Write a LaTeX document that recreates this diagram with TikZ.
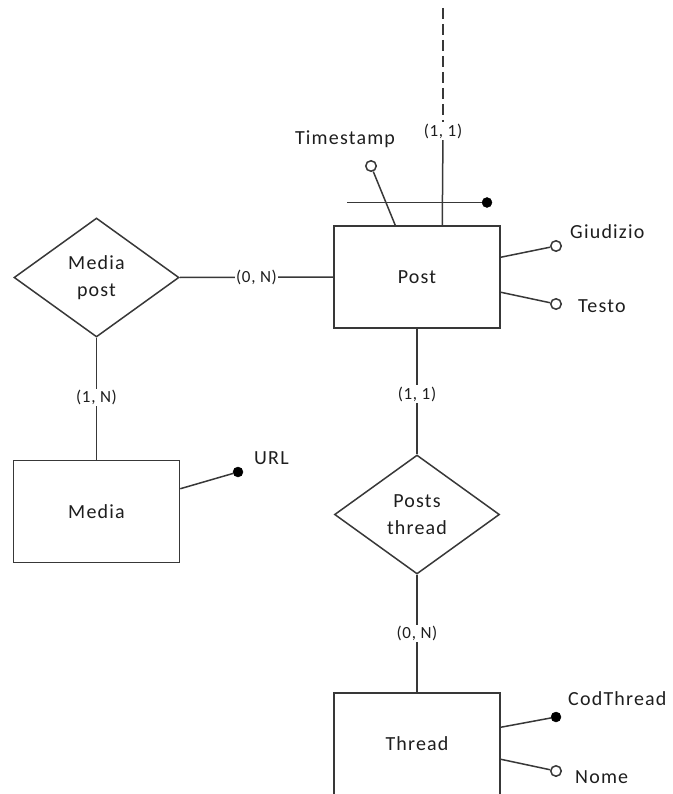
\documentclass[tikz,border=0pt]{standalone}
\usepackage{fontspec}
\setmainfont{Carlito}
\newfontfamily\namefont[LetterSpace=6]{Carlito}
\newfontfamily\cardfont[LetterSpace=4]{Carlito}
\usetikzlibrary{shapes.geometric,calc}
\definecolor{ink}{HTML}{383838}
\definecolor{txt}{HTML}{1E1E1E}
\tikzset{
  every picture/.style={x=1pt,y=-1pt},
  conn/.style={draw=ink,line width=1.5pt},
  entity/.style={draw=ink,line width=1.5pt,fill=white,rectangle,minimum width=166pt,minimum height=102pt,inner sep=0pt,text=txt,font=\namefont\fontsize{20}{27}\selectfont},
  relation/.style={draw=ink,line width=1.5pt,fill=white,diamond,minimum width=165pt,minimum height=119pt,inner sep=0pt,align=center,text=txt,font=\namefont\fontsize{20}{27}\selectfont},
  card/.style={fill=white,inner sep=1.5pt,text=txt,font=\cardfont\fontsize{17}{19}\selectfont},
  attrname/.style={inner sep=0pt,text=txt,font=\namefont\fontsize{20}{24}\selectfont},
  optattr/.style={circle,draw=ink,line width=1.5pt,fill=white,minimum size=10.5pt,inner sep=0pt},
  keyattr/.style={circle,draw=black,fill=black,minimum size=10pt,inner sep=0pt},
}
\begin{document}
\begin{tikzpicture}
\useasboundingbox (0,0) rectangle (672,794);
\clip (0,0) rectangle (672,794);

% entities
\node[entity] (post) at (417,277) {Post};
\node[entity] (media) at (96.5,511.5) {Media};
\node[entity] (thread) at (417,744) {Thread};

% relationships
\node[relation] (mediapost) at (96.5,277.5) {Media\\post};
\node[relation] (poststhread) at (417,514.5) {Posts\\thread};

% Media post -- Post
\draw[conn] (mediapost.east) -- node[card] {(0, N)} (post.west);
% Media post -- Media
\draw[conn] (mediapost.south) -- node[card,pos=0.49] {(1, N)} (media.north);
% Post -- Posts thread
\draw[conn] (post.south) -- node[card,pos=0.52] {(1, 1)} (poststhread.north);
% Posts thread -- Thread
\draw[conn] (poststhread.south) -- node[card,pos=0.5] {(0, N)} (thread.north);

% external identifier link above Post: dashed upper part, label, solid lower part
\coordinate (uptop) at (443,8);
\coordinate (upmid) at (443,131);
\coordinate (upfoot) at ($(post.north west)+(109,0)$);
\draw[conn,dash pattern=on 11pt off 5pt] (uptop) -- (upmid);
\draw[conn] (upmid) -- (upfoot);
\node[card] (upcard) at (upmid) {(1, 1)};

% composite identifier bar
\coordinate (barstart) at (347,202.5);
\node[keyattr] (barkey) at (487,202.5) {};
\draw[conn] (barstart) -- (barkey);

% Post attributes
\coordinate (tsfoot) at ($(post.north west)+(62,0)$);
\node[optattr] (ts) at (371,166) {};
\node[attrname] (tsname) at (345,139) {Timestamp};
\draw[conn] (tsfoot) -- (ts);

\node[optattr] (giu) at (556,246) {};
\node[attrname,anchor=west] (giuname) at (570,232) {Giudizio};
\draw[conn] ($(post.north east)+(0,32)$) -- (giu);

\node[optattr] (tes) at (556,304) {};
\node[attrname,anchor=west] (tesname) at (578,306) {Testo};
\draw[conn] ($(post.north east)+(0,67)$) -- (tes);

% Media attributes
\node[keyattr] (url) at (238,472) {};
\node[attrname,anchor=west] (urlname) at (254,458) {URL};
\draw[conn] ($(media.north east)+(0,29)$) -- (url);

% Thread attributes
\node[keyattr] (cod) at (556,717) {};
\node[attrname,anchor=west] (codname) at (568,699) {CodThread};
\draw[conn] ($(thread.north east)+(0,35)$) -- (cod);

\node[optattr] (nome) at (556,771) {};
\node[attrname,anchor=west] (nomename) at (575,777) {Nome};
\draw[conn] ($(thread.north east)+(0,67)$) -- (nome);
\end{tikzpicture}
\end{document}
